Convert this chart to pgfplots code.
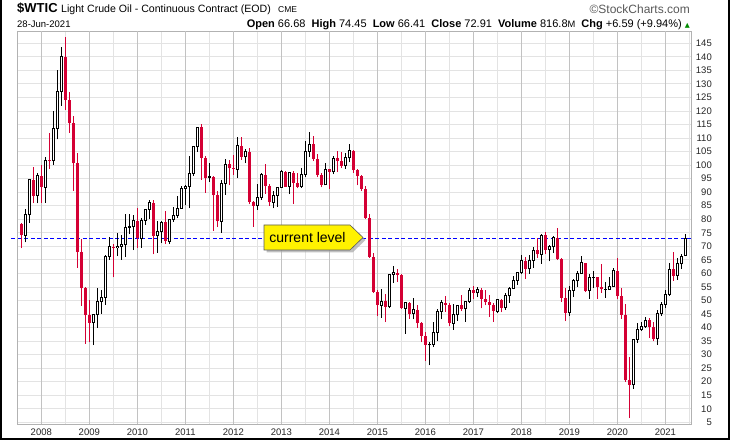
\documentclass[border=0pt]{standalone}
\usepackage{fontspec}
\setmainfont{Liberation Sans}
\newfontfamily\dejavu{DejaVu Sans}
\usepackage{pgfplots}
\usepackage{pgfplotstable}
\pgfplotsset{compat=1.18}
\definecolor{cred}{RGB}{212,0,52}
\definecolor{cblue}{RGB}{0,0,255}

% month index m: Aug 2007 = 1 ... Jun 2021 = 167 ; columns open high low close
\pgfplotstableread{
m o h l c
1 78.21 78.77 69.30 74.04
4 94.53 99.29 86.00 88.71
6 95.98 100.09 86.11 91.75
8 101.84 111.80 98.65 101.58
12 140.00 147.27 120.40 124.08
13 124.08 127.00 112.00 115.46
14 115.46 118.00 90.50 100.64
15 100.64 104.30 62.00 67.81
16 67.81 72.80 48.00 54.43
17 54.43 55.00 34.00 44.60
18 44.60 50.00 34.50 41.68
24 69.89 70.70 58.50 69.45
30 79.36 84.00 69.50 72.89
34 86.15 87.00 67.00 73.97
37 78.95 82.90 70.80 71.92
46 113.93 115.00 94.60 102.70
47 102.70 103.40 89.70 95.42
49 95.70 96.00 75.70 88.81
50 88.81 90.50 77.10 79.20
53 100.36 101.80 92.50 98.83
54 98.83 103.70 96.50 98.48
56 107.07 110.55 102.00 103.02
58 104.87 106.40 85.50 86.53
59 86.53 86.80 77.30 84.96
62 96.47 100.40 89.50 92.19
63 92.19 93.00 84.90 86.24
67 97.49 97.80 92.00 92.05
69 97.23 97.80 85.60 93.46
70 93.46 96.90 91.40 91.97
74 107.65 110.70 101.50 102.33
75 102.33 104.00 95.50 96.38
76 96.38 96.90 91.80 92.72
78 98.42 98.60 91.20 97.49
80 102.59 105.20 97.40 101.58
81 101.58 104.90 98.90 99.74
84 105.37 105.70 97.20 98.17
85 98.17 98.70 92.50 95.96
86 95.96 96.20 90.40 91.16
87 91.16 92.20 80.00 80.54
88 80.54 82.00 65.70 66.15
89 66.15 67.60 52.70 53.27
90 53.27 54.00 44.20 48.24
92 49.76 52.50 42.00 47.60
95 60.30 61.60 57.00 59.47
96 59.47 59.70 46.70 47.12
98 49.20 49.50 43.20 45.09
100 46.59 48.40 39.90 41.65
101 41.65 42.00 34.50 37.04
102 37.04 38.40 27.60 33.62
107 49.10 51.70 45.80 48.33
108 48.33 49.00 40.60 41.60
111 48.24 51.90 46.10 46.86
114 53.72 55.20 50.70 52.81
116 54.01 54.60 47.10 50.60
117 50.60 53.80 48.20 49.33
118 49.33 52.00 43.80 48.32
119 48.32 48.90 42.05 46.04
121 50.17 50.40 45.60 47.23
127 64.73 66.00 58.10 61.64
130 68.57 72.90 65.80 67.04
132 74.15 75.27 67.00 68.76
135 73.25 76.90 64.90 65.31
136 65.31 65.50 49.40 50.93
137 50.93 54.60 42.40 45.41
142 63.91 64.00 53.00 53.50
145 58.58 58.80 50.50 55.10
146 55.10 63.40 52.80 54.07
150 61.06 65.65 50.60 51.56
151 51.56 54.70 43.30 44.76
152 44.76 48.70 19.90 20.48
153 20.48 29.10 6.50 18.84
158 42.61 43.40 36.10 40.22
159 40.22 41.90 34.90 35.79
164 61.50 67.98 57.30 59.16
}\down

\pgfplotstableread{
m o h l c
2 74.04 83.90 71.50 81.66
3 81.66 94.74 78.60 94.53
5 88.71 97.00 85.90 95.98
7 91.75 103.05 86.10 101.84
9 101.58 119.93 100.00 113.46
10 113.46 135.09 109.50 127.35
11 127.35 143.67 122.00 140.00
19 41.68 45.00 33.50 44.76
20 44.76 54.70 40.00 49.66
21 49.66 54.00 45.00 51.12
22 51.12 66.80 48.50 66.31
23 66.31 73.40 65.00 69.89
25 69.45 75.00 66.40 69.96
26 69.96 74.00 65.10 70.61
27 70.61 82.00 66.00 77.00
28 77.00 82.00 74.50 77.28
29 77.28 81.40 68.60 79.36
31 72.89 80.50 69.50 79.66
32 79.66 83.85 77.90 83.76
33 83.76 87.15 80.00 86.15
35 73.97 79.40 67.60 75.63
36 75.63 79.40 71.20 78.95
38 71.92 80.10 70.80 79.97
39 79.97 84.40 79.00 81.43
40 81.43 88.60 80.30 84.11
41 84.11 92.10 84.00 91.38
42 91.38 92.60 85.10 92.19
43 92.19 103.40 84.10 96.97
44 96.97 106.95 96.00 106.72
45 106.72 114.20 105.00 113.93
48 95.42 100.60 93.80 95.70
51 79.20 94.65 74.95 93.19
52 93.19 102.40 89.00 100.36
55 98.48 110.50 95.40 107.07
57 103.02 106.00 100.70 104.87
60 84.96 92.90 83.50 88.06
61 88.06 97.00 87.20 96.47
64 86.24 90.40 84.05 88.91
65 88.91 91.80 84.70 91.82
66 91.82 98.20 91.70 97.49
68 92.05 97.60 89.30 97.23
71 91.97 99.00 91.50 96.56
72 96.56 108.90 95.50 105.03
73 105.03 112.24 103.00 107.65
77 92.72 100.75 92.60 98.42
79 97.49 103.40 96.70 102.59
82 99.74 104.50 98.60 102.71
83 102.71 107.70 101.00 105.37
91 48.24 54.20 43.60 49.76
93 47.60 59.90 47.05 59.63
94 59.63 62.60 56.50 60.30
97 47.12 49.30 37.75 49.20
99 45.09 50.90 43.00 46.59
103 33.62 34.80 26.05 33.75
104 33.75 41.90 32.80 38.34
105 38.34 46.80 35.20 45.92
106 45.92 50.20 43.00 49.10
109 41.60 48.80 39.20 44.70
110 44.70 48.40 42.50 48.24
112 46.86 49.50 42.20 49.44
113 49.44 54.50 49.00 53.72
115 52.81 54.90 51.20 54.01
120 46.04 50.40 45.40 50.17
122 47.23 52.90 46.50 51.67
123 51.67 54.90 49.10 54.38
124 54.38 59.00 54.20 57.40
125 57.40 60.50 55.80 60.42
126 60.42 66.66 59.80 64.73
128 61.64 66.70 59.95 64.94
129 64.94 69.60 62.00 68.57
131 67.04 74.46 63.60 74.15
133 68.76 70.40 64.40 69.80
134 69.80 73.90 67.50 73.25
138 45.41 55.40 44.35 53.79
139 53.79 57.80 51.20 57.22
140 57.22 60.70 55.10 60.14
141 60.14 66.60 60.00 63.91
143 53.50 59.90 50.60 58.47
144 58.47 60.90 54.70 58.58
147 54.07 57.00 51.00 54.18
148 54.18 58.80 54.00 55.17
149 55.17 61.90 55.00 61.06
154 18.84 35.60 17.30 35.49
155 35.49 41.60 34.40 39.27
156 39.27 42.00 38.70 40.27
157 40.27 43.80 40.00 42.61
160 35.79 46.30 33.60 45.34
161 45.34 49.40 44.30 48.52
162 48.52 53.90 47.20 52.20
163 52.20 63.80 51.60 61.50
165 59.16 65.50 57.60 63.58
166 63.58 67.00 61.60 66.32
167 66.68 74.45 66.41 72.91
}\up

\begin{document}
\begin{tikzpicture}[x=1pt,y=1pt]
\path[use as bounding box, fill=white] (0,0) rectangle (730,442);
\begin{axis}[
  at={(17.3pt,18pt)}, anchor=south west,
  scale only axis, width=673.7pt, height=393pt,
  xmin=0, xmax=168.4, ymin=4.36, ymax=149.54,
  clip=false,
  axis line style={draw=black!30},
  major tick length=0pt, minor tick length=0pt,
  xtick={0,12,...,168}, xticklabels={},
  extra x ticks={6,18,...,162},
  extra x tick labels={2008,2009,2010,2011,2012,2013,2014,2015,2016,2017,2018,2019,2020,2021},
  extra x tick style={grid=major, major grid style={draw=black!24, line width=0.8pt}},
  ytick={5,10,...,145},
  xmajorgrids, ymajorgrids,
  major grid style={draw=black!11, line width=0.8pt},
  yticklabel pos=right,
  yticklabel style={anchor=east, xshift=21pt, inner sep=0pt},
  xticklabel style={yshift=-1.5pt},
  tick label style={font=\fontsize{9.5}{11}\selectfont, text=black!85},
  /pgf/number format/assume math mode=true,
]
% blue dashed current level line
\addplot[cblue, line width=0.9pt, dash pattern=on 4pt off 2.5pt, forget plot] coordinates {(-1.5,72.91) (168.4,72.91)};
% down candles: wicks and filled red bodies
\addplot[draw=none, mark=none, forget plot,
  error bars/.cd, y dir=plus, y explicit, error mark=none,
  error bar style={draw=cred, line width=1pt}]
  table[x=m, y=l, y error expr={\thisrow{h}-\thisrow{l}}] {\down};
\addplot[draw=none, mark=none, forget plot,
  error bars/.cd, y dir=plus, y explicit, error mark=none,
  error bar style={draw=cred, line width=3.2pt}]
  table[x=m, y=c, y error expr={\thisrow{o}-\thisrow{c}}] {\down};
% up candles: wicks and hollow black bodies
\addplot[draw=none, mark=none, forget plot,
  error bars/.cd, y dir=plus, y explicit, error mark=none,
  error bar style={draw=black, line width=1pt}]
  table[x=m, y=l, y error expr={\thisrow{h}-\thisrow{l}}] {\up};
\addplot[draw=none, mark=none, forget plot,
  error bars/.cd, y dir=plus, y explicit, error mark=none,
  error bar style={draw=black, line width=3.4pt}]
  table[x=m, y expr={\thisrow{o}-0.185}, y error expr={\thisrow{c}-\thisrow{o}+0.37}] {\up};
\addplot[draw=none, mark=none, forget plot,
  error bars/.cd, y dir=plus, y explicit, error mark=none,
  error bar style={draw=white, line width=1.4pt}]
  table[x=m, y expr={\thisrow{o}+0.185}, y error expr={max(\thisrow{c}-\thisrow{o}-0.37,0)}] {\up};
\end{axis}

% callout
\fill[black!35, opacity=0.7] (266.5,214.5) -- (352.5,214.5) -- (365.5,202) -- (352.5,189.5) -- (266.5,189.5) -- cycle;
\draw[fill=yellow, draw=black!65, line width=0.6pt] (264,217) -- (350,217) -- (363,204.5) -- (350,192) -- (264,192) -- cycle;
\node[font=\fontsize{14}{16}\selectfont, inner sep=0pt] at (307.5,204.5) {current level};

% header
\node[anchor=base west, inner sep=0pt, font=\fontsize{13}{15}\selectfont\bfseries] at (17,429) {\$WTIC};
\node[anchor=base west, inner sep=0pt, font=\fontsize{10.6}{13}\selectfont] at (61,429) {Light Crude Oil - Continuous Contract (EOD)};
\node[anchor=base west, inner sep=0pt, font=\fontsize{8.5}{10}\selectfont] at (278,429) {CME};
\node[anchor=base west, inner sep=0pt, font=\fontsize{9.5}{11}\selectfont] at (17,414.3) {28-Jun-2021};
\node[anchor=base east, inner sep=0pt, font=\fontsize{11}{12}\selectfont] at (690,414.3)
  {\textbf{Open} 66.68\ \ \textbf{High} 74.45\ \ \textbf{Low} 66.41\ \ \textbf{Close} 72.91\ \ \textbf{Volume} 816.8{\fontsize{9.3}{10}\selectfont M}\ \ \textbf{Chg} +6.59 (+9.94\%) {\color{green!55!black}\dejavu\fontsize{6.5}{7}\selectfont ▲}};
\node[anchor=base east, inner sep=0pt, font=\fontsize{12}{14}\selectfont, text=black!65] at (690,428.5) {©StockCharts.com};

% outer border
\draw[line width=1.8pt] (0.9,442) -- (0.9,2.9) -- (729.1,2.9) -- (729.1,442);
\end{tikzpicture}
\end{document}
